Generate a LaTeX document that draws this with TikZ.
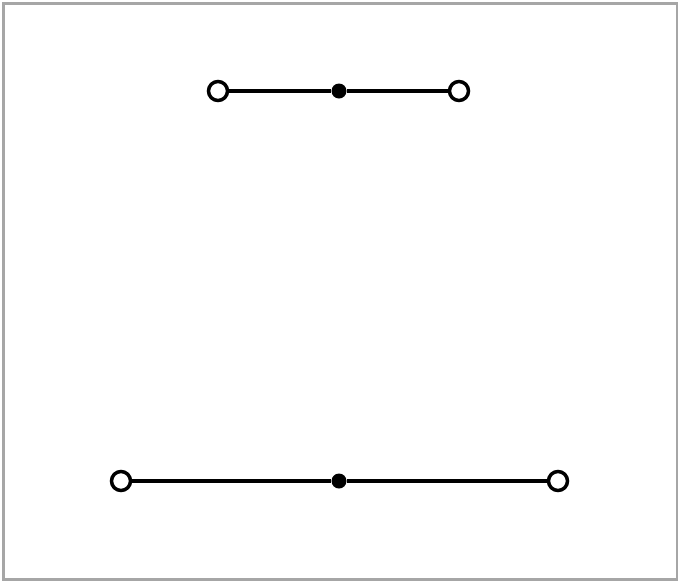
\documentclass[tikz,border=0pt]{standalone}
\begin{document}
\begin{tikzpicture}[x=1pt,y=-1pt,
  term/.style={circle,draw=black,fill=white,line width=3.5pt,inner sep=0pt,minimum size=19pt},
  joint/.style={circle,fill=black,inner sep=0pt,minimum size=15pt},
  wire/.style={line width=3.2pt}]
\useasboundingbox (0,0) rectangle (678,582);
\draw[line width=3pt,color=black!35] (3,3) rectangle (677,579);
\node[joint] (tm) at (339,91) {};
\node[term] (tl) at (218,91) {};
\node[term] (tr) at (459,91) {};
\node[joint] (bm) at (339,481) {};
\node[term] (bl) at (121,481) {};
\node[term] (br) at (558,481) {};
\draw[wire] (tl) -- (tm) -- (tr);
\draw[wire] (bl) -- (bm) -- (br);
\end{tikzpicture}
\end{document}
